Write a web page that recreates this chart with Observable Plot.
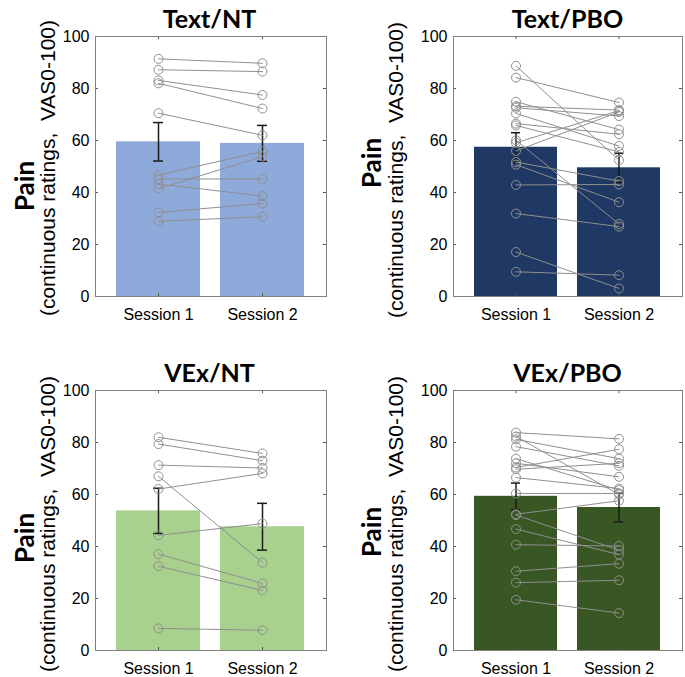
<!DOCTYPE html>
<html>
<head>
<meta charset="utf-8">
<script src="https://cdn.jsdelivr.net/npm/d3@7"></script>
<script src="https://cdn.jsdelivr.net/npm/@observablehq/plot@0.6"></script>
<style>
  body { margin: 0; background: #fff; }
  #root { position: relative; width: 685px; height: 677px; overflow: hidden; background: #fff; }
  .panel { position: absolute; }
  .title { position: absolute; font-family: Lato, "Open Sans", sans-serif; font-weight: 700; font-size: 25px; line-height: 30px; height: 30px; white-space: nowrap; transform: translateX(-50%); }
  .ylab { position: absolute; white-space: nowrap; line-height: 1; transform: translate(-50%, -50%) rotate(-90deg); }
  .pain { font-family: Lato, "Open Sans", sans-serif; font-weight: 700; font-size: 26px; }
  .sub { font-family: "Liberation Sans", Arial, sans-serif; font-size: 21px; }
</style>
</head>
<body>
<div id="root"></div>
<script>
// ---- data ----
const sessions = ["Session 1", "Session 2"];
const titles = ["Text/NT", "Text/PBO", "VEx/NT", "VEx/PBO"];
const barColors = ["#8eaadb", "#1f3864", "#a9d18e", "#385723"];
const yTicks = [0, 20, 40, 60, 80, 100];

const textNT_s1 = [91.4, 87.2, 83.1, 82.0, 70.5, 46.7, 45.2, 43.3, 41.5, 32.3, 28.9];
const textNT_s2 = [89.7, 86.5, 77.5, 72.3, 62.0, 55.8, 45.2, 38.6, 53.8, 35.8, 30.7];
const textNT_mean = [59.5, 58.9];
const textNT_sem = [7.4, 6.9];

const textPBO_s1 = [88.7, 84.2, 74.9, 73.2, 72.6, 70.4, 66.5, 65.8, 60.1, 59.1, 56.0, 51.7, 50.7, 42.9, 31.9, 17.1, 9.5];
const textPBO_s2 = [52.4, 74.6, 64.2, 71.7, 69.4, 57.9, 62.4, 55.6, 27.9, 71.5, 71.0, 44.4, 36.3, 43.1, 26.9, 3.1, 8.2];
const textPBO_mean = [57.4, 49.5];
const textPBO_sem = [5.6, 5.6];

const vexNT_s1 = [82.0, 79.4, 71.3, 67.0, 62.1, 44.3, 37.1, 32.4, 8.5];
const vexNT_s2 = [75.8, 73.0, 70.2, 33.8, 68.1, 48.8, 25.8, 23.1, 7.8];
const vexNT_mean = [53.7, 47.6];
const vexNT_sem = [8.7, 9.0];

const vexPBO_s1 = [83.8, 82.3, 81.2, 78.4, 73.8, 72.0, 70.4, 69.7, 66.5, 60.4, 52.4, 52.1, 46.7, 40.7, 30.5, 26.1, 19.5];
const vexPBO_s2 = [81.4, 60.0, 73.8, 71.0, 61.7, 66.8, 77.4, 72.0, 62.3, 60.4, 57.6, 38.6, 36.9, 40.2, 33.4, 27.0, 14.4];
const vexPBO_mean = [59.3, 55.0];
const vexPBO_sem = [5.1, 5.5];

// ---- layout ----
const panels = [
  {s1: textNT_s1, s2: textNT_s2, mean: textNT_mean, sem: textNT_sem, left: 0, top: 30, mL: 95, w: 329, titleX: 209.5, titleTop: 3, painX: 24, painY: 186, subX: 47, subY: 168},
  {s1: textPBO_s1, s2: textPBO_s2, mean: textPBO_mean, sem: textPBO_sem, left: 340, top: 30, mL: 113, w: 345, titleX: 567.5, titleTop: 3, painX: 371, painY: 163, subX: 395, subY: 170},
  {s1: vexNT_s1, s2: vexNT_s2, mean: vexNT_mean, sem: vexNT_sem, left: 0, top: 384, mL: 95, w: 329, titleX: 209.5, titleTop: 357, painX: 24, painY: 538, subX: 47, subY: 524},
  {s1: vexPBO_s1, s2: vexPBO_s2, mean: vexPBO_mean, sem: vexPBO_sem, left: 340, top: 384, mL: 113, w: 345, titleX: 567.5, titleTop: 357, painX: 371, painY: 532, subX: 395, subY: 524}
];

const root = document.getElementById("root");
const gray = "#8f8f8f";

panels.forEach((p, i) => {
  const bars = sessions.map((s, k) => ({session: s, mean: p.mean[k], sem: p.sem[k]}));
  const subj = [];
  p.s1.forEach((v, j) => {
    subj.push({id: j, session: sessions[0], value: v});
    subj.push({id: j, session: sessions[1], value: p.s2[j]});
  });
  const frameW = p.w - p.mL - 3;
  const chart = Plot.plot({
    width: p.w,
    height: 293,
    marginLeft: p.mL,
    marginRight: 3,
    marginTop: 6,
    marginBottom: 27,
    style: {fontFamily: "'Liberation Sans', Arial, sans-serif", fontSize: "16px", color: "#000", background: "transparent", overflow: "visible"},
    x: {type: "band", domain: sessions, paddingInner: 0.19, paddingOuter: 0.2, label: null},
    y: {domain: [0, 100], label: null},
    marks: [
      Plot.barY(bars, {x: "session", y: "mean", fill: barColors[i]}),
      Plot.ruleX(bars, {x: "session", y1: d => d.mean - d.sem, y2: d => d.mean + d.sem, stroke: "#1a1a1a", strokeWidth: 1.5}),
      Plot.tickY(bars, {x: "session", y: d => d.mean - d.sem, stroke: "#1a1a1a", strokeWidth: 1.5, insetLeft: 37, insetRight: 37}),
      Plot.tickY(bars, {x: "session", y: d => d.mean + d.sem, stroke: "#1a1a1a", strokeWidth: 1.5, insetLeft: 37, insetRight: 37}),
      Plot.line(subj, {x: "session", y: "value", z: "id", stroke: gray, strokeWidth: 1}),
      Plot.dot(subj, {x: "session", y: "value", r: 4.5, stroke: gray, strokeWidth: 1, fill: "none"}),
      // inward tick marks (MATLAB style)
      Plot.ruleX(sessions, {x: d => d, y1: 0, y2: 1.2, stroke: "#555"}),
      Plot.ruleX(sessions, {x: d => d, y1: 98.8, y2: 100, stroke: "#555"}),
      Plot.tickY(yTicks, {y: d => d, stroke: "#555", insetRight: frameW - 3}),
      Plot.tickY(yTicks, {y: d => d, stroke: "#555", insetLeft: frameW - 3}),
      Plot.frame({stroke: "#808080", strokeWidth: 1}),
      Plot.axisX({tickSize: 0, tickPadding: 12}),
      Plot.axisY({ticks: yTicks, tickSize: 0, tickPadding: 6})
    ]
  });
  chart.classList.add("panel");
  chart.style.left = p.left + "px";
  chart.style.top = p.top + "px";
  root.appendChild(chart);

  const t = document.createElement("div");
  t.className = "title";
  t.textContent = titles[i];
  t.style.left = p.titleX + "px";
  t.style.top = p.titleTop + "px";
  root.appendChild(t);

  const pain = document.createElement("div");
  pain.className = "ylab pain";
  pain.textContent = "Pain";
  pain.style.left = p.painX + "px";
  pain.style.top = p.painY + "px";
  root.appendChild(pain);

  const sub = document.createElement("div");
  sub.className = "ylab sub";
  sub.textContent = "(continuous ratings,  VAS0-100)";
  sub.style.whiteSpace = "pre";
  sub.style.left = p.subX + "px";
  sub.style.top = p.subY + "px";
  root.appendChild(sub);
});
</script>
</body>
</html>
